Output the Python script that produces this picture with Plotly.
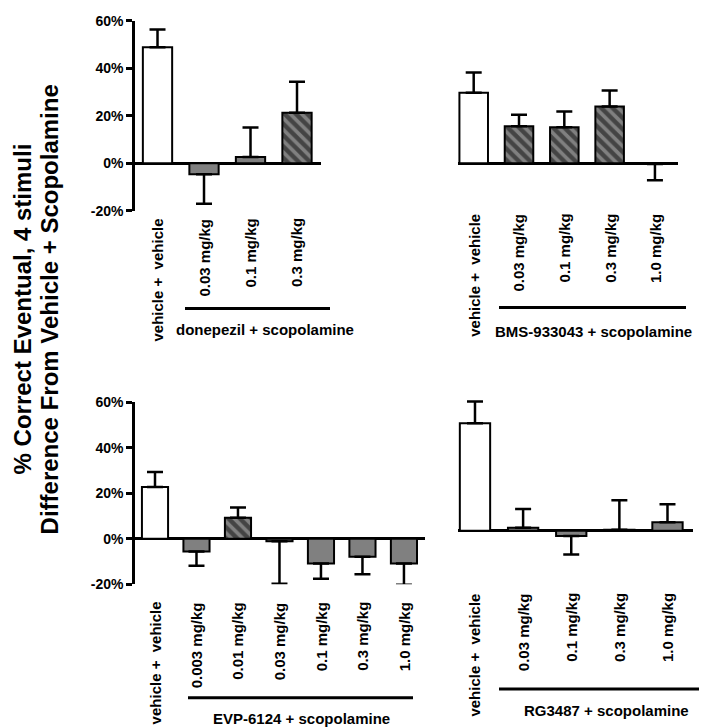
import plotly.graph_objects as go

W, H = 707, 728

# ---------------- data ----------------
donepezil_cats = ["vehicle +  vehicle", "0.03 mg/kg", "0.1 mg/kg", "0.3 mg/kg"]
donepezil_mean = [48.9, -4.7, 2.6, 21.3]
donepezil_sem = [7.5, 12.4, 12.4, 13.0]
donepezil_hatch = [False, False, False, True]

bms_cats = ["vehicle +  vehicle", "0.03 mg/kg", "0.1 mg/kg", "0.3 mg/kg", "1.0 mg/kg"]
bms_mean = [29.7, 15.6, 15.2, 23.9, -0.3]
bms_sem = [8.5, 4.8, 6.6, 6.7, 6.9]
bms_hatch = [False, True, True, True, False]

evp_cats = ["vehicle +  vehicle", "0.003 mg/kg", "0.01 mg/kg", "0.03 mg/kg",
            "0.1 mg/kg", "0.3 mg/kg", "1.0 mg/kg"]
evp_mean = [22.8, -5.6, 9.2, -1.1, -10.9, -7.9, -10.9]
evp_sem = [6.6, 6.3, 4.5, 18.7, 6.7, 7.7, 9.3]
evp_hatch = [False, False, True, False, False, False, False]

rg_cats = ["vehicle +  vehicle", "0.03 mg/kg", "0.1 mg/kg", "0.3 mg/kg", "1.0 mg/kg"]
rg_mean = [47.3, 1.3, -2.3, 0.4, 3.7]
rg_sem = [9.5, 8.3, 8.2, 13.0, 8.0]
rg_hatch = [False, False, False, False, False]

group_labels = ["donepezil + scopolamine", "BMS-933043 + scopolamine",
                "EVP-6124 + scopolamine", "RG3487 + scopolamine"]

y_ticks = [-20, 0, 20, 40, 60]
y_ticktext = ["-20%", "0%", "20%", "40%", "60%"]
title_lines = ["% Correct Eventual, 4 stimuli", "Difference From Vehicle + Scopolamine"]

FONT = "Liberation Sans, Arial, sans-serif"
GRAY = "#808080"


def px_x(p):
    return p / W


def px_y(p):
    return 1 - p / H


panels = [
    dict(cats=donepezil_cats, mean=donepezil_mean, sem=donepezil_sem, hatch=donepezil_hatch,
         xdom=(127, 313), ydom=(5, 199), yrange=(-20, 60), xrange=(-0.484, 3.516),
         showaxis=True, lab_top=205, line=(177, 322, 299), glabel=(257, 321)),
    dict(cats=bms_cats, mean=bms_mean, sem=bms_sem, hatch=bms_hatch,
         xdom=(449.7, 669.6), ydom=(5, 199), yrange=(-20, 60), xrange=(-0.353, 4.5),
         showaxis=False, lab_top=200, line=(491, 678, 298), glabel=(585, 322.5)),
    dict(cats=evp_cats, mean=evp_mean, sem=evp_sem, hatch=evp_hatch,
         xdom=(127, 416.7), ydom=(395, 581), yrange=(-20, 60), xrange=(-0.482, 6.5),
         showaxis=True, lab_top=597, line=(180, 405, 697), glabel=(293, 718)),
    dict(cats=rg_cats, mean=rg_mean, sem=rg_sem, hatch=rg_hatch,
         xdom=(450, 685), ydom=(386.8, 572.8), yrange=(-20, 60), xrange=(-0.353, 4.53),
         showaxis=False, lab_top=588, line=(491, 707, 688), glabel=(598, 710)),
]

fig = go.Figure()
annotations = []
shapes = []
layout_axes = {}

for i, p in enumerate(panels):
    n = i + 1
    xa = "x" if n == 1 else f"x{n}"
    ya = "y" if n == 1 else f"y{n}"
    colors = ["white" if j == 0 else GRAY for j in range(len(p["cats"]))]
    shapes_pat = ["\\" if h else "" for h in p["hatch"]]
    plus = [s if m >= 0 else 0 for m, s in zip(p["mean"], p["sem"])]
    minus = [0 if m >= 0 else s for m, s in zip(p["mean"], p["sem"])]
    fig.add_trace(go.Bar(
        x=p["cats"], y=p["mean"], width=0.63,
        marker=dict(color=colors, line=dict(color="black", width=2),
                    pattern=dict(shape=shapes_pat, fgcolor="black", bgcolor=GRAY,
                                 fgopacity=1, size=8, solidity=0.55)),
        error_y=dict(type="data", symmetric=False, array=plus, arrayminus=minus,
                     color="black", thickness=2.5, width=8),
        xaxis=xa, yaxis=ya, showlegend=False,
    ))
    xkey = "xaxis" if n == 1 else f"xaxis{n}"
    ykey = "yaxis" if n == 1 else f"yaxis{n}"
    layout_axes[xkey] = dict(
        domain=[px_x(p["xdom"][0]), px_x(p["xdom"][1])], anchor=ya,
        type="category", categoryorder="array", categoryarray=p["cats"],
        range=list(p["xrange"]), showticklabels=False, ticks="",
        showline=False, showgrid=False, zeroline=False, fixedrange=True)
    layout_axes[ykey] = dict(
        domain=[px_y(p["ydom"][1]), px_y(p["ydom"][0])], anchor=xa,
        range=list(p["yrange"]), showgrid=False,
        zeroline=True, zerolinecolor="black", zerolinewidth=2.5,
        showline=p["showaxis"], linecolor="black", linewidth=2.5,
        ticks="outside" if p["showaxis"] else "", ticklen=6, tickwidth=2.5,
        tickcolor="black", tickmode="array",
        tickvals=y_ticks, ticktext=y_ticktext,
        showticklabels=p["showaxis"],
        tickfont=dict(family=FONT, size=14, color="black", weight="bold"),
        fixedrange=True)
    for c in p["cats"]:
        annotations.append(dict(
            x=c, xref=xa, y=px_y(p["lab_top"]), yref="paper",
            text="<b>" + c + "</b>", textangle=-90, showarrow=False,
            xanchor="center", yanchor="top",
            font=dict(family=FONT, size=15, color="black")))
    x0, x1, yl = p["line"]
    shapes.append(dict(type="line", xref="paper", yref="paper",
                       x0=px_x(x0), x1=px_x(x1), y0=px_y(yl), y1=px_y(yl),
                       line=dict(color="black", width=3)))
    gx, gy = p["glabel"]
    annotations.append(dict(
        x=px_x(gx), y=px_y(gy), xref="paper", yref="paper",
        text="<b>" + group_labels[i] + "</b>",
        showarrow=False, xanchor="center", yanchor="middle",
        font=dict(family=FONT, size=15, color="black")))

# y title (two lines)
for tx, line in zip([14, 41], title_lines):
    annotations.append(dict(
        x=px_x(tx), y=px_y(300), xref="paper", yref="paper", text="<b>" + line + "</b>",
        textangle=-90, showarrow=False, xanchor="center", yanchor="middle",
        font=dict(family=FONT, size=24, color="black")))

fig.update_layout(**layout_axes)
fig.update_layout(
    width=W, height=H, margin=dict(l=0, r=0, t=0, b=0),
    paper_bgcolor="white", plot_bgcolor="white",
    annotations=annotations, shapes=shapes,
)

fig.write_html("out.html")
